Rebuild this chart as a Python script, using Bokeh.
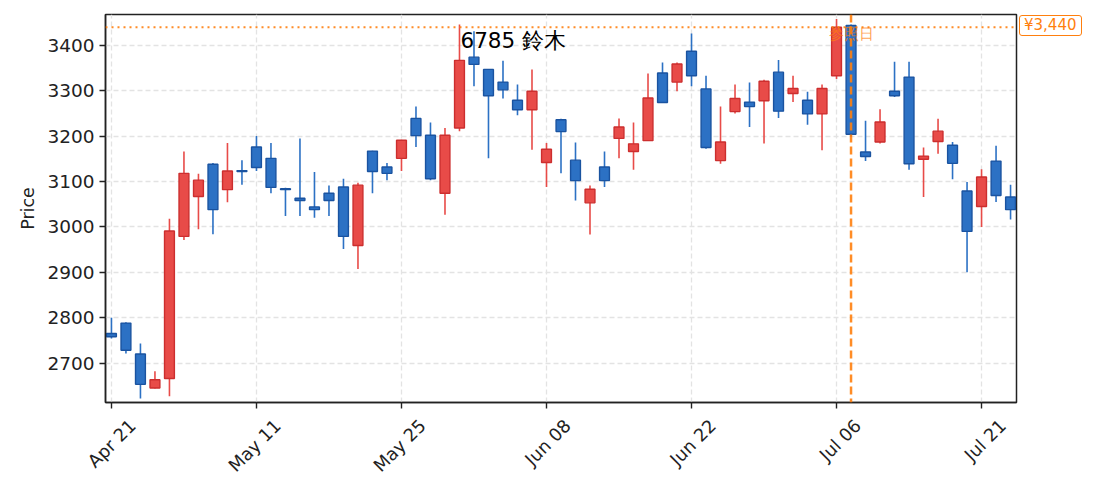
import math
from bokeh.plotting import figure
from bokeh.models import ColumnDataSource, Span, Label, FixedTicker, Range1d, LinearAxis, Div
from bokeh.layouts import row
from bokeh.embed import file_html
from bokeh.resources import INLINE

# ---- data -------------------------------------------------------------
dates = ["04-21", "04-22", "04-23", "04-24", "04-27", "04-28", "04-30", "05-01", "05-07", "05-08",
         "05-11", "05-12", "05-13", "05-14", "05-15", "05-18", "05-19", "05-20", "05-21", "05-22",
         "05-25", "05-26", "05-27", "05-28", "05-29", "06-01", "06-02", "06-03", "06-04", "06-05",
         "06-08", "06-09", "06-10", "06-11", "06-12", "06-15", "06-16", "06-17", "06-18", "06-19",
         "06-22", "06-23", "06-24", "06-25", "06-26", "06-29", "06-30", "07-01", "07-02", "07-03",
         "07-06", "07-07", "07-08", "07-09", "07-10", "07-13", "07-14", "07-15", "07-16", "07-17",
         "07-21", "07-22", "07-23"]
opens = [2765, 2788, 2720, 2645, 2666, 2979, 3067, 3138, 3082, 3124,
         3176, 3151, 3084, 3063, 3044, 3074, 3088, 2959, 3167, 3132,
         3151, 3239, 3202, 3074, 3218, 3374, 3347, 3319, 3279, 3258,
         3142, 3236, 3147, 3053, 3132, 3195, 3166, 3190, 3339, 3319,
         3387, 3304, 3146, 3254, 3275, 3278, 3341, 3294, 3279, 3249,
         3333, 3444, 3165, 3187, 3299, 3330, 3149, 3188, 3180, 3079,
         3045, 3145, 3066]
highs = [2800, 2790, 2743, 2682, 3018, 3166, 3117, 3141, 3185, 3147,
         3200, 3185, 3086, 3195, 3121, 3091, 3106, 3097, 3168, 3141,
         3192, 3265, 3230, 3218, 3446, 3431, 3348, 3366, 3314, 3347,
         3185, 3238, 3186, 3091, 3166, 3239, 3230, 3338, 3362, 3362,
         3426, 3333, 3265, 3314, 3318, 3324, 3368, 3333, 3298, 3314,
         3458, 3446, 3234, 3259, 3364, 3364, 3175, 3238, 3187, 3099,
         3127, 3179, 3093]
lows = [2754, 2721, 2622, 2644, 2627, 2971, 2995, 2984, 3054, 3093,
        3123, 3074, 3024, 3024, 3020, 3024, 2951, 2907, 3074, 3103,
        3123, 3176, 3103, 3027, 3211, 3310, 3151, 3283, 3246, 3170,
        3088, 3118, 3058, 2983, 3088, 3151, 3126, 3189, 3273, 3299,
        3310, 3172, 3139, 3250, 3220, 3184, 3240, 3275, 3225, 3169,
        3326, 3198, 3145, 3184, 3286, 3126, 3066, 3161, 3105, 2900,
        3000, 3055, 3016]
closes = [2758, 2728, 2653, 2663, 2991, 3118, 3103, 3038, 3123, 3122,
          3131, 3087, 3082, 3058, 3038, 3058, 2979, 3092, 3122, 3118,
          3191, 3201, 3106, 3202, 3367, 3358, 3289, 3302, 3258, 3299,
          3171, 3210, 3102, 3083, 3102, 3220, 3183, 3284, 3274, 3359,
          3333, 3175, 3187, 3283, 3265, 3321, 3255, 3305, 3249, 3305,
          3440, 3204, 3155, 3231, 3289, 3139, 3156, 3211, 3140, 2990,
          3110, 3069, 3038]
month_names = {"04": "Apr", "05": "May", "06": "Jun", "07": "Jul"}
tick_every = 10
title_text = "6785  鈴木"
ref_index = 51
ref_label = "参照日"
ref_price = 3440
y_ticks = [2700, 2800, 2900, 3000, 3100, 3200, 3300, 3400]

# ---- styles -----------------------------------------------------------
UP_FILL, UP_EDGE = "#E84B48", "#CC2E2E"
DN_FILL, DN_EDGE = "#2C71C4", "#1A53A0"
ORANGE = "#FF7F0E"
DARK = "#222222"
FONT = "DejaVu Sans"
LABEL_SHIFT = 1.45   # horizontal shift (in bar units) so rotated labels sit centred on their tick

idx = list(range(len(opens)))
up = [c >= o for o, c in zip(opens, closes)]
src = ColumnDataSource(dict(
    x=idx, o=opens, h=highs, l=lows, c=closes,
    top=[max(o, c) for o, c in zip(opens, closes)],
    bot=[min(o, c) for o, c in zip(opens, closes)],
    fill=[UP_FILL if u else DN_FILL for u in up],
    edge=[UP_EDGE if u else DN_EDGE for u in up],
))

p = figure(width=1019, height=490, output_backend="svg", toolbar_location=None,
           x_range=Range1d(-0.41, 62.41), y_range=Range1d(2613, 3468),
           min_border_left=105, min_border_right=3, min_border_top=14, min_border_bottom=88)
p.background_fill_color = "white"
p.border_fill_color = "white"
p.outline_line_color = DARK
p.outline_line_width = 1.5

p.segment(x0="x", y0="l", x1="x", y1="h", source=src, line_color="fill", line_width=1.6)
p.vbar(x="x", width=0.68, top="top", bottom="bot", source=src,
       fill_color="fill", line_color="edge", line_width=1.4)

# axes
xt = idx[::tick_every]
p.xaxis.ticker = FixedTicker(ticks=xt)
p.xaxis.major_label_overrides = {i: "" for i in xt}
p.xaxis.major_label_text_font_size = "1px"
p.xaxis.major_label_standoff = 0
p.yaxis.ticker = FixedTicker(ticks=y_ticks)
p.yaxis.axis_label = "Price"
for ax in (p.xaxis[0], p.yaxis[0]):
    ax.axis_line_color = DARK
    ax.axis_line_width = 1.5
    ax.major_tick_line_color = DARK
    ax.major_tick_line_width = 1.4
    ax.major_tick_out = 6
    ax.major_tick_in = 0
    ax.minor_tick_line_color = None
p.yaxis.major_label_text_font = FONT
p.yaxis.major_label_text_font_size = "18.5px"
p.yaxis.major_label_text_color = DARK
p.yaxis.major_label_standoff = 5
p.yaxis.axis_label_text_font = FONT
p.yaxis.axis_label_text_font_size = "17.5px"
p.yaxis.axis_label_text_font_style = "normal"
p.yaxis.axis_label_text_color = DARK
p.yaxis.axis_label_standoff = 6

# date labels (rotated 45 deg, centred under the ticks)
lab_ticks = [i + LABEL_SHIFT for i in xt]
lab_axis = LinearAxis(ticker=FixedTicker(ticks=lab_ticks),
                      major_label_overrides={t: f"{month_names[dates[i][:2]]} {dates[i][3:]}"
                                             for t, i in zip(lab_ticks, xt)},
                      major_label_orientation=math.pi / 4,
                      major_label_text_font=FONT, major_label_text_font_size="17.8px",
                      major_label_text_color=DARK, major_label_standoff=8,
                      axis_line_color=None, major_tick_line_color=None,
                      minor_tick_line_color=None)
p.add_layout(lab_axis, "below")

for g in (p.xgrid[0], p.ygrid[0]):
    g.grid_line_color = "#e3e3e3"
    g.grid_line_dash = "5 3"
    g.grid_line_width = 1.3
p.xgrid.ticker = FixedTicker(ticks=xt)
p.ygrid.ticker = FixedTicker(ticks=y_ticks)

# reference lines
p.add_layout(Span(location=ref_price, dimension="width", line_color=ORANGE,
                  line_width=2, line_dash="2 4", line_alpha=0.9))
p.add_layout(Span(location=ref_index, dimension="height", line_color=ORANGE,
                  line_width=2.5, line_dash="8 4", line_alpha=0.9))
p.add_layout(Label(x=ref_index, y=3426, text=ref_label, text_align="center",
                   text_baseline="middle", text_color=ORANGE, text_alpha=0.75,
                   text_font=FONT, text_font_size="15px"))
p.add_layout(Label(x=24.07, y=3410, text=title_text, text_align="left",
                   text_baseline="middle", text_color="black",
                   text_font=FONT, text_font_size="21.5px"))

price_tag = Div(text=(f'<span style="display:inline-block;border:1.5px solid {ORANGE};'
                      f'border-radius:3px;padding:1px 4px;color:{ORANGE};background:white;'
                      f'font-family:{FONT};font-size:15px;line-height:17px;white-space:nowrap">'
                      f'¥{ref_price:,}</span>'),
                width=72, height=30, margin=(15, 0, 0, 0))

layout = row(p, price_tag, spacing=0)
open("out.html", "w").write(file_html(layout, INLINE))
